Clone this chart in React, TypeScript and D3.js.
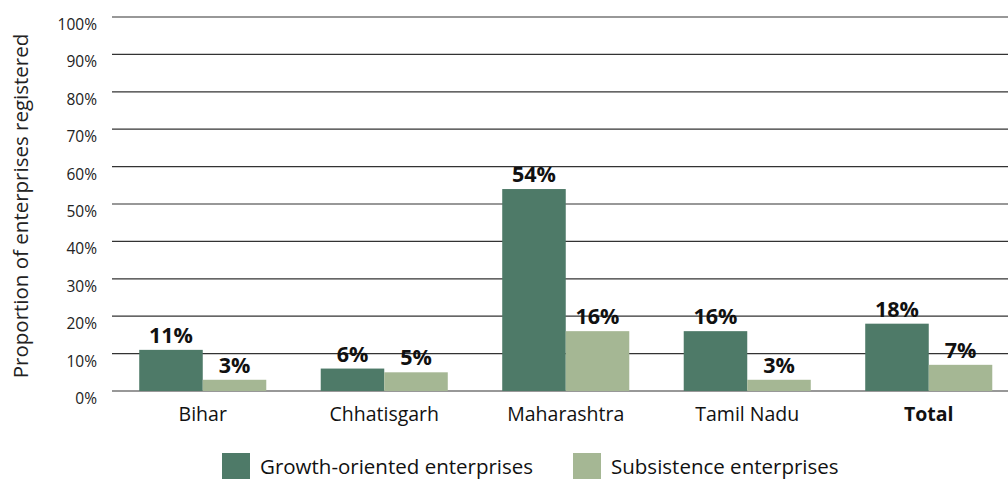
import React from "react";
import * as d3 from "d3";

const categories = ["Bihar", "Chhatisgarh", "Maharashtra", "Tamil Nadu", "Total"];
const growth = [11, 6, 54, 16, 18];
const subsistence = [3, 5, 16, 3, 7];
const yTicks = [0, 10, 20, 30, 40, 50, 60, 70, 80, 90, 100];
const seriesNames = ["Growth-oriented enterprises", "Subsistence enterprises"];
const colors = ["#4e7a68", "#a5b794"];

const W = 1008, H = 479;
const left = 112, right = 1019.5, top = 17, bottom = 391;
const font = "'Open Sans', sans-serif";

export default function App() {
  const x = d3.scaleBand<string>().domain(categories).range([left, right]).paddingInner(0.3).paddingOuter(0.15);
  const x1 = d3.scaleBand<number>().domain([0, 1]).range([0, x.bandwidth()]);
  const y = d3.scaleLinear().domain([0, 100]).range([bottom, top]);
  const series = [growth, subsistence];
  return (
    <svg width={W} height={H} style={{ position: "absolute", left: 0, top: 0 }} fontFamily={font}>
      {yTicks.map((t) => (
        <g key={t}>
          <line x1={left} x2={W} y1={y(t)} y2={y(t)} stroke="#333" strokeWidth={1.2} />
          <text x={97} y={y(t) + 13} textAnchor="end" fontSize={15.5} fill="#222">{t}%</text>
        </g>
      ))}
      <text transform={`translate(28,206) rotate(-90)`} textAnchor="middle" fontSize={20.5} fill="#222">
        Proportion of enterprises registered
      </text>
      {categories.map((c, i) => (
        <g key={c}>
          {series.map((s, j) => {
            const bx = (x(c) as number) + (x1(j) as number);
            return (
              <g key={j}>
                <rect x={bx} y={y(s[i])} width={x1.bandwidth()} height={bottom - y(s[i])} fill={colors[j]} />
                <text x={bx + x1.bandwidth() / 2} y={y(s[i]) - 7} textAnchor="middle" fontSize={21.5} fontWeight="bold" fill="#111">
                  {s[i]}%
                </text>
              </g>
            );
          })}
          <text x={(x(c) as number) + x.bandwidth() / 2} y={421} textAnchor="middle" fontSize={19.5} fontWeight={c === "Total" ? "bold" : "normal"} fill="#111">
            {c}
          </text>
        </g>
      ))}
      {seriesNames.map((n, j) => {
        const lx = j === 0 ? 222 : 573;
        return (
          <g key={n}>
            <rect x={lx} y={453} width={28} height={28} fill={colors[j]} />
            <text x={lx + 38} y={473.5} fontSize={20.5} fill="#111">{n}</text>
          </g>
        );
      })}
    </svg>
  );
}
